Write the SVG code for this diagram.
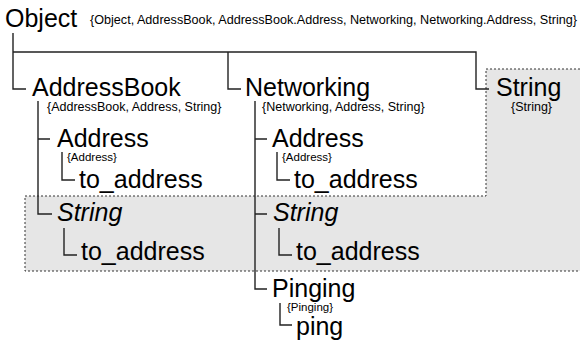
<svg xmlns="http://www.w3.org/2000/svg" width="580" height="342" viewBox="0 0 580 342">
<style>
text{font-family:"Liberation Sans",Arial,sans-serif;fill:#000}
.big{font-size:25px}
.it{font-style:italic}
.set{font-size:12.5px}
.tiny{font-size:11.5px}
.conn path{fill:none;stroke:#222;stroke-width:1.4}
.scope{fill:#e6e6e6;stroke:none}
.dot{fill:none;stroke:#333;stroke-width:1;stroke-dasharray:2,2}
</style>
<g id="scope-string">
<path class="scope" d="M486,69H580V271H25V196H486Z"/>
<path class="dot" d="M580,69H486V196H25V271H580"/>
</g>
<g class="conn" id="connectors">
<path d="M13,33V89H26M13,52H476V89H489M228,52V89H241"/>
<path d="M38,101V214H52M38,139H50"/>
<path d="M62,152V180H75"/>
<path d="M64,228V255H77"/>
<path d="M255,101V289H267M255,139H267M255,214H267"/>
<path d="M277,152V180H290"/>
<path d="M279,228V255H292"/>
<path d="M280,303V325H292"/>
</g>
<g id="n-object">
<text class="big" x="5" y="27">Object</text>
<text class="set" x="90" y="24" textLength="487" lengthAdjust="spacingAndGlyphs">{Object, AddressBook, AddressBook.Address, Networking, Networking.Address, String}</text>
</g>
<g id="n-addressbook">
<text class="big" x="32" y="96">AddressBook</text>
<text class="set" x="47" y="111">{AddressBook, Address, String}</text>
</g>
<g id="n-networking">
<text class="big" x="245" y="96">Networking</text>
<text class="set" x="262" y="111">{Networking, Address, String}</text>
</g>
<g id="n-string">
<text class="big" x="496" y="96">String</text>
<text class="set" x="511" y="111">{String}</text>
</g>
<g id="n-ab-address">
<text class="big" x="57" y="147">Address</text>
<text class="tiny" x="67" y="161">{Address}</text>
</g>
<g id="n-ab-address-to">
<text class="big" x="79" y="188">to_address</text>
</g>
<g id="n-ab-string">
<text class="big it" x="57" y="221">String</text>
</g>
<g id="n-ab-string-to">
<text class="big" x="81" y="260">to_address</text>
</g>
<g id="n-nw-address">
<text class="big" x="272" y="147">Address</text>
<text class="tiny" x="282" y="161">{Address}</text>
</g>
<g id="n-nw-address-to">
<text class="big" x="294" y="188">to_address</text>
</g>
<g id="n-nw-string">
<text class="big it" x="273" y="221">String</text>
</g>
<g id="n-nw-string-to">
<text class="big" x="296" y="260">to_address</text>
</g>
<g id="n-pinging">
<text class="big" x="272" y="297">Pinging</text>
<text class="tiny" x="287" y="311">{Pinging}</text>
</g>
<g id="n-ping">
<text class="big" x="296" y="335">ping</text>
</g>
</svg>
